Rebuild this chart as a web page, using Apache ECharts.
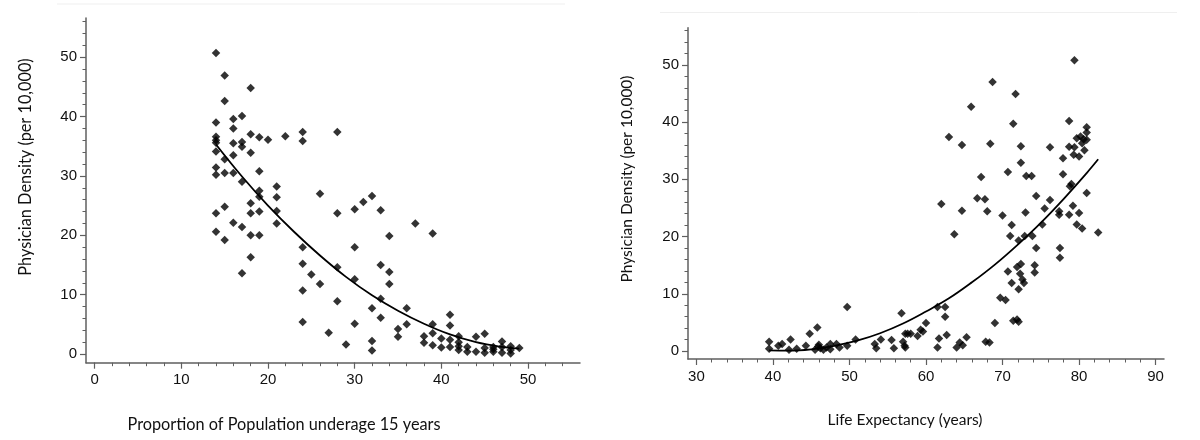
<!DOCTYPE html>
<html>
<head>
<meta charset="utf-8">
<script src="https://cdn.jsdelivr.net/npm/echarts@6/dist/echarts.min.js"></script>
<style>
  html, body { margin: 0; padding: 0; background: #fff; }
  #chart { width: 1200px; height: 440px; }
</style>
</head>
<body>
<div id="chart"></div>
<script>
// ---- Titles ----
const underageTitle = 'Proportion of Population underage 15 years';
const densityTitle = 'Physician Density (per 10,000)';
const lifeTitle = 'Life Expectancy (years)';

// ---- Left panel: physician density vs. proportion of population under 15 ----
const underagePoints = [
  [14,50.7],[14,39.0],[14,36.6],[14,36.0],[14,35.6],[14,34.1],[14,31.4],[14,30.2],[14,23.7],[14,20.6],
  [15,46.9],[15,42.6],[15,32.8],[15,30.5],[15,24.8],[15,19.2],
  [16,39.6],[16,38.0],[16,35.5],[16,33.5],[16,30.5],[16,22.1],
  [17,40.1],[17,35.7],[17,34.9],[17,29.0],[17,21.4],[17,13.6],
  [18,44.8],[18,37.0],[18,33.9],[18,25.4],[18,23.7],[18,20.0],[18,16.3],
  [19,36.5],[19,30.8],[19,27.5],[19,26.5],[19,24.0],[19,20.0],
  [20,36.1],
  [21,28.2],[21,26.4],[21,24.1],[21,22.0],
  [22,36.7],
  [24,37.4],[24,35.9],[24,18.0],[24,15.2],[24,10.7],[24,5.4],
  [25,13.4],
  [26,27.0],[26,11.8],
  [27,3.6],
  [28,37.4],[28,23.7],[28,14.6],[28,8.9],
  [29,1.6],
  [30,24.4],[30,18.0],[30,12.6],[30,5.1],
  [31,25.6],
  [32,26.6],[32,7.7],[32,2.2],[32,0.6],
  [33,24.2],[33,15.0],[33,9.3],[33,6.1],
  [34,19.9],[34,13.8],[34,11.8],
  [35,4.2],[35,2.9],
  [36,7.7],[36,5.0],
  [37,22.0],
  [38,3.0],[38,1.9],
  [39,20.3],[39,5.0],[39,3.5],[39,1.5],
  [40,2.6],[40,1.1],
  [41,6.6],[41,4.8],[41,2.4],[41,1.2],
  [42,3.0],[42,2.0],[42,1.3],[42,0.7],
  [43,1.2],[43,0.4],
  [44,2.9],[44,0.4],
  [45,3.4],[45,1.0],[45,0.2],
  [46,1.2],[46,0.8],[46,0.4],
  [47,2.1],[47,1.2],[47,0.2],
  [48,1.3],[48,0.7],[48,0.1],
  [49,1.0]
];
const underageFit = [
  [14,35.3],[17,29.9],[20,25.0],[23,20.6],[26,16.6],[29,13.0],[32,9.9],
  [35,7.3],[38,5.1],[41,3.3],[44,2.0],[47,1.2],[49,0.9]
];

// ---- Right panel: physician density vs. life expectancy ----
const lifePoints = [
  [39.5,1.6],[39.5,0.4],[40.7,0.9],[41.2,1.2],[42.3,2.0],[42.1,0.2],[43.1,0.4],[44.3,0.9],
  [44.8,3.0],[45.8,4.1],[45.5,0.2],[45.9,0.8],[46.0,1.1],[46.2,0.5],[46.6,0.2],[47.0,0.6],
  [47.5,1.2],[47.5,0.3],[48.3,1.2],[48.7,0.6],[49.7,0.9],[49.7,7.7],[50.8,2.0],
  [53.3,1.2],[53.5,0.5],[54.1,2.0],[55.5,1.9],[55.8,0.5],[56.8,6.6],[57.0,1.6],[57.2,0.9],
  [57.3,0.6],[57.3,3.0],[57.6,3.0],[58.0,3.0],[58.9,2.6],[59.3,3.7],[59.6,3.4],[60.0,4.9],
  [61.5,7.7],[62.5,7.7],[62.5,6.0],[62.7,2.8],[61.7,2.2],[61.5,0.6],[62.0,25.7],[63.0,37.4],
  [63.7,20.4],[64.0,0.6],[64.4,1.5],[64.8,1.0],[65.3,2.4],[64.7,36.0],[64.7,24.5],[65.9,42.7],
  [66.7,26.7],[67.7,26.5],[67.2,30.4],[67.8,1.6],[68.3,1.5],[68.0,24.4],[68.4,36.2],[68.7,47.0],
  [69.0,4.9],[69.7,9.3],[70.4,8.9],[70.0,23.7],[70.7,31.3],[70.7,13.9],
  [71.2,11.9],[71.0,20.1],[71.2,22.0],[71.4,39.7],[71.7,44.9],[71.4,5.3],[71.9,5.5],[72.1,5.1],
  [72.1,10.8],[71.9,14.7],[72.4,15.2],[72.3,13.5],[72.6,12.5],[72.8,11.9],[72.1,19.3],[72.9,20.1],
  [72.4,32.9],[72.4,35.8],[73.1,30.6],[73.0,24.2],[73.9,20.1],[73.8,30.6],[74.2,15.0],[74.2,13.7],
  [74.4,18.0],[74.4,27.1],
  [75.2,22.1],[75.5,24.9],[76.2,26.4],[76.2,35.6],[77.4,24.4],[77.4,23.8],[77.5,18.0],[77.5,16.3],
  [77.9,33.7],[77.9,30.9],[78.7,40.2],[78.7,35.7],[78.7,23.8],[78.8,28.8],[79.0,29.2],[79.2,25.4],
  [79.4,50.8],[79.4,35.6],[79.3,34.3],[79.7,37.2],[80.2,37.5],[80.6,37.0],[80.4,36.3],[81.0,36.9],
  [81.0,39.1],[81.0,38.2],[80.7,35.1],[80.0,34.0],[80.0,24.1],[79.7,22.1],[80.4,21.4],[81.0,27.6],
  [82.5,20.7]
];
const lifeFit = [
  [39.5,0.1],[42,0.05],[45,0.3],[48,0.9],[51,1.8],[54,3.1],[57,4.8],[60,6.9],
  [63,9.2],[66,12.0],[69,15.1],[72,18.6],[75,22.4],[78,26.6],[81,31.1],[82.5,33.5]
];

// ---- Tick values ----
const leftXMajor = [0,10,20,30,40,50];
const leftXMinor = [0,2,4,6,8,10,12,14,16,18,20,22,24,26,28,30,32,34,36,38,40,42,44,46,48,50,52,54];
const leftYMajor = [0,10,20,30,40,50];
const leftYMinor = [0,2,4,6,8,10,12,14,16,18,20,22,24,26,28,30,32,34,36,38,40,42,44,46,48,50,52,54,56];
const rightXMajor = [30,40,50,60,70,80,90];
const rightXMinor = [30,32,34,36,38,40,42,44,46,48,50,52,54,56,58,60,62,64,66,68,70,72,74,76,78,80,82,84,86,88,90];
const rightYMajor = [0,10,20,30,40,50];
const rightYMinor = [0,2,4,6,8,10,12,14,16,18,20,22,24,26,28,30,32,34,36,38,40,42,44,46,48,50,52,54,56];

const AXIS_COLOR = '#5f5f5f';
const LABEL_FONT = 'Liberation Sans';
const TITLE_FONT = 'Lato, sans-serif';

function majorAxis(gridIndex, min, max, ticks, isX, size) {
  return {
    type: 'value', gridIndex, min, max,
    position: isX ? 'bottom' : 'left',
    axisLine: { show: true, onZero: false, lineStyle: { color: AXIS_COLOR, width: 1.5 } },
    axisTick: { show: true, customValues: ticks, length: 6, lineStyle: { color: AXIS_COLOR, width: 1.2 } },
    axisLabel: { show: true, customValues: ticks, margin: isX ? 10 : 9,
      color: '#111', fontFamily: LABEL_FONT, fontSize: size,
      textStyle: { fontSize: size, fontFamily: LABEL_FONT } },
    splitLine: { show: false }
  };
}
function minorAxis(gridIndex, min, max, ticks, isX) {
  return {
    type: 'value', gridIndex, min, max,
    position: isX ? 'bottom' : 'left',
    axisLine: { show: false, onZero: false },
    axisTick: { show: true, customValues: ticks, length: 3.5, lineStyle: { color: AXIS_COLOR, width: 1 } },
    axisLabel: { show: false },
    splitLine: { show: false }
  };
}

const chart = echarts.init(document.getElementById('chart'), null, { renderer: 'canvas' });
chart.setOption({
  backgroundColor: '#ffffff',
  animation: false,
  textStyle: { fontFamily: LABEL_FONT, fontSize: 15 },
  grid: [
    { left: 86, top: 18, width: 494, height: 344.7 },
    { left: 688, top: 27.7, width: 476, height: 331.3 }
  ],
  xAxis: [
    majorAxis(0, -1, 56, leftXMajor, true, 15),
    minorAxis(0, -1, 56, leftXMinor, true),
    majorAxis(1, 28.9, 91.1, rightXMajor, true, 15),
    minorAxis(1, 28.9, 91.1, rightXMinor, true)
  ],
  yAxis: [
    majorAxis(0, -1.46, 56.6, leftYMajor, false, 15),
    minorAxis(0, -1.46, 56.6, leftYMinor, false),
    majorAxis(1, -1.4, 56.5, rightYMajor, false, 15),
    minorAxis(1, -1.4, 56.5, rightYMinor, false)
  ],
  series: [
    { type: 'scatter', xAxisIndex: 0, yAxisIndex: 0, data: underagePoints,
      symbol: 'diamond', symbolSize: 8.5, itemStyle: { color: '#000' }, z: 3 },
    { type: 'line', xAxisIndex: 0, yAxisIndex: 0, data: underageFit, smooth: 0.4,
      showSymbol: false, symbol: 'none', lineStyle: { color: '#000', width: 1.8 }, z: 4 },
    { type: 'scatter', xAxisIndex: 2, yAxisIndex: 2, data: lifePoints,
      symbol: 'diamond', symbolSize: 8.5, itemStyle: { color: '#000' }, z: 3 },
    { type: 'line', xAxisIndex: 2, yAxisIndex: 2, data: lifeFit, smooth: 0.4,
      showSymbol: false, symbol: 'none', lineStyle: { color: '#000', width: 1.8 }, z: 4 }
  ],
  graphic: [
    { type: 'line', shape: { x1: 57, y1: 4, x2: 565, y2: 4 }, style: { stroke: '#efefef', lineWidth: 1 }, silent: true },
    { type: 'line', shape: { x1: 660, y1: 12.5, x2: 1177, y2: 12.5 }, style: { stroke: '#efefef', lineWidth: 1 }, silent: true },
    { type: 'text', x: 26, y: 167, rotation: Math.PI / 2,
      style: { text: densityTitle, font: '16.3px ' + TITLE_FONT, fill: '#111',
        textAlign: 'center', textVerticalAlign: 'middle', align: 'center', verticalAlign: 'middle' } },
    { type: 'text', x: 284, y: 425,
      style: { text: underageTitle, font: '16.3px ' + TITLE_FONT, fill: '#111',
        textAlign: 'center', textVerticalAlign: 'middle', align: 'center', verticalAlign: 'middle' } },
    { type: 'text', x: 627, y: 179, rotation: Math.PI / 2,
      style: { text: densityTitle, font: '15.5px ' + TITLE_FONT, fill: '#111',
        textAlign: 'center', textVerticalAlign: 'middle', align: 'center', verticalAlign: 'middle' } },
    { type: 'text', x: 905, y: 420,
      style: { text: lifeTitle, font: '15.5px ' + TITLE_FONT, fill: '#111',
        textAlign: 'center', textVerticalAlign: 'middle', align: 'center', verticalAlign: 'middle' } }
  ]
});
</script>
</body>
</html>
